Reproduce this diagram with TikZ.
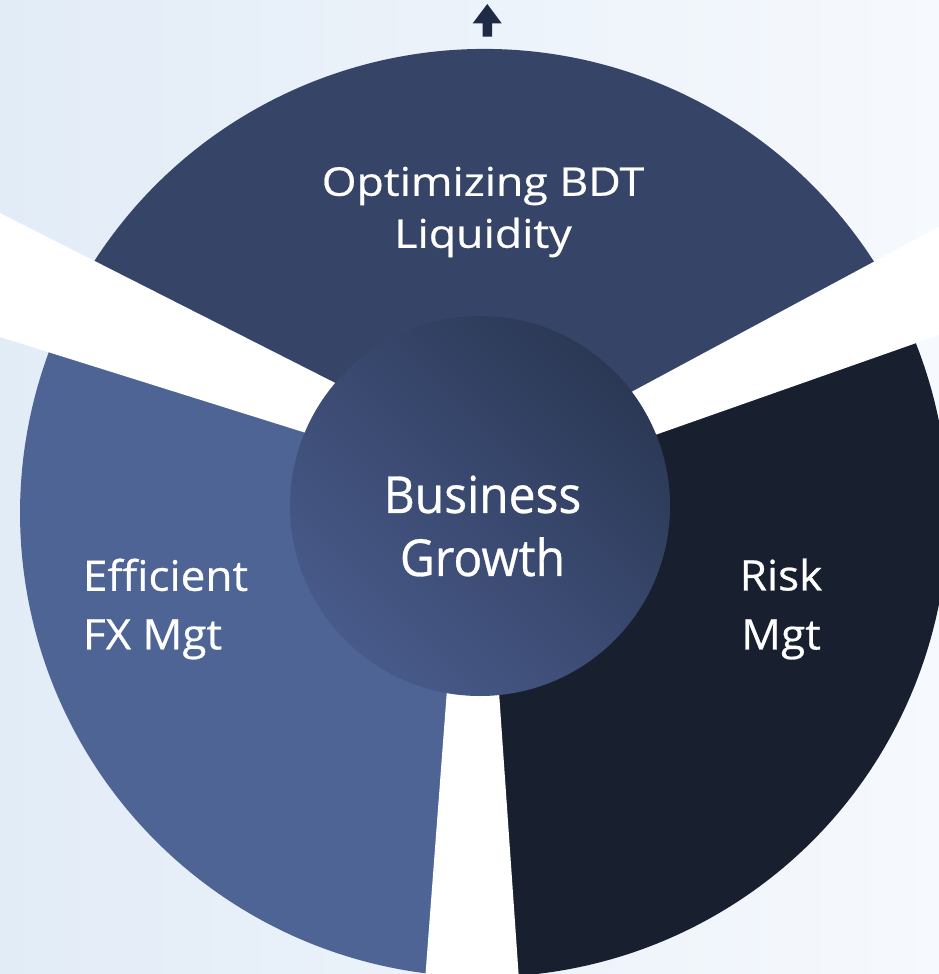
\documentclass[tikz,border=0pt]{standalone}
\usepackage{fontspec}
\setmainfont{Open Sans}
\newfontfamily\topfont{Open Sans}[FakeStretch=1.13,FakeBold=0.6]
\newfontfamily\hubfont{Open Sans}[FakeStretch=0.94,FakeBold=0.6]
\newfontfamily\sidefont{Open Sans}[FakeStretch=1.05,FakeBold=0.6]
\definecolor{bgL}{HTML}{E2ECF7}
\definecolor{bgR}{HTML}{F6F9FD}
\definecolor{topc}{HTML}{364468}
\definecolor{leftc}{HTML}{4D6494}
\definecolor{rightc}{HTML}{181F2F}
\definecolor{hubL}{HTML}{485A8A}
\definecolor{hubD}{HTML}{2B3855}
\definecolor{arrowc}{HTML}{1F2A45}
\tikzset{
  sector/.style={draw=none},
  gapwedge/.style={fill=white,draw=none},
  label/.style={text=white,inner sep=0pt},
}
\begin{document}
\begin{tikzpicture}[x=1pt,y=-1pt]
\useasboundingbox (0,0) rectangle (939,974);
\shade[left color=bgL,right color=bgR] (0,0) rectangle (939,974);
\coordinate (O) at (484,513);
\begin{scope}
\clip (0,0) rectangle (939,974);
\fill[sector,topc] (O) -- ++(206.2:464) arc[start angle=206.2,end angle=333,radius=464] -- cycle;
\fill[sector,rightc] (O) -- ++(333:464) arc[start angle=333,end angle=451.5,radius=464] -- cycle;
\fill[sector,leftc] (O) -- ++(91.5:464) arc[start angle=91.5,end angle=206.2,radius=464] -- cycle;
\coordinate (ga) at (641,538);
\coordinate (gb) at (354,541);
\coordinate (gc) at (474,332);
\fill[gapwedge] (ga) -- (-5,210.5) -- (-5,335.4) -- cycle;
\fill[gapwedge] (gb) -- (945,223.5) -- (945,332.9) -- cycle;
\fill[gapwedge] (gc) -- (424.3,990) -- (519.7,990) -- cycle;
\end{scope}
\node[circle,minimum size=380pt,inner sep=0pt,left color=hubL,right color=hubD,shading angle=135] (hub) at (480,506) {};
\node[label,align=center,font=\hubfont\fontsize{51}{63}\selectfont] (hubtext) at (482.5,526) {Business\\Growth};
\node[label,align=center,font=\topfont\fontsize{39.5}{52}\selectfont] (toptext) at (483,212) {Optimizing BDT\\Liquidity};
\node[label,align=left,anchor=west,font=\sidefont\fontsize{42}{58.5}\selectfont] (lefttext) at (82.7,609) {Efficient\\FX Mgt};
\node[label,align=center,font=\sidefont\fontsize{42}{59}\selectfont] (righttext) at (781,609) {Risk\\Mgt};
\coordinate (tip) at (487.3,4);
\fill[arrowc] (tip) -- (501.7,23.3) -- (492,23.3) -- (492,36.7) -- (482.7,36.7) -- (482.7,23.3) -- (472.7,23.3) -- cycle;
\end{tikzpicture}
\end{document}
